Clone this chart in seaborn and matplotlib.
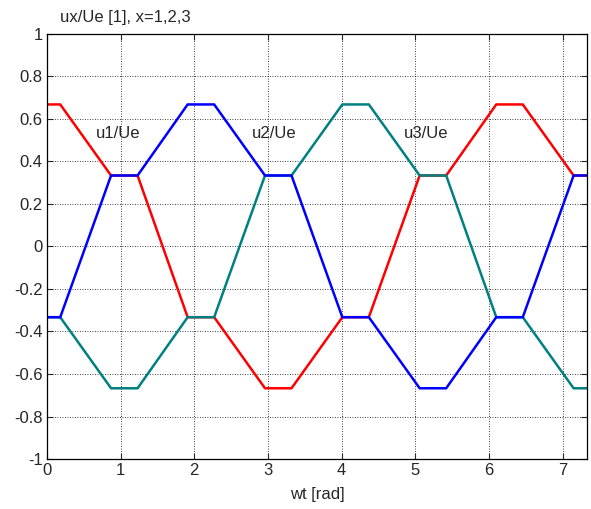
import matplotlib
matplotlib.use("Agg")
import matplotlib.pyplot as plt
import pandas as pd
import seaborn as sns

# breakpoints of the piecewise-linear waveforms
wt = [0.00, 0.18, 0.87, 1.23, 1.91, 2.27, 2.96, 3.32, 4.01, 4.37,
      5.06, 5.42, 6.10, 6.46, 7.15, 7.33]
u1 = [0.667, 0.667, 0.333, 0.333, -0.333, -0.333, -0.667, -0.667, -0.333, -0.333,
      0.333, 0.333, 0.667, 0.667, 0.333, 0.333]
u2 = [-0.333, -0.333, 0.333, 0.333, 0.667, 0.667, 0.333, 0.333, -0.333, -0.333,
      -0.667, -0.667, -0.333, -0.333, 0.333, 0.333]
u3 = [-0.333, -0.333, -0.667, -0.667, -0.333, -0.333, 0.333, 0.333, 0.667, 0.667,
      0.333, 0.333, -0.333, -0.333, -0.667, -0.667]

labels = ["u1/Ue", "u2/Ue", "u3/Ue"]
label_x = [0.66, 2.78, 4.85]
label_y = [0.51, 0.51, 0.51]

xticks = [0, 1, 2, 3, 4, 5, 6, 7]
yticks = [-1, -0.8, -0.6, -0.4, -0.2, 0, 0.2, 0.4, 0.6, 0.8, 1]
ytick_labels = ["-1", "-0.8", "-0.6", "-0.4", "-0.2", "0", "0.2", "0.4", "0.6", "0.8", "1"]

sns.set_style("ticks")
plt.rcParams['font.family'] = ['Liberation Sans', 'DejaVu Sans']

df = pd.DataFrame({"wt": wt, "u1": u1, "u2": u2, "u3": u3})

fig = plt.figure(figsize=(5.91, 5.09), dpi=100)
ax = fig.add_axes([0.0795, 0.098, 0.9135, 0.836])

# draw order: red, teal, blue (blue on top where they overlap)
sns.lineplot(data=df, x="wt", y="u1", color="#ff0000", lw=1.8, ax=ax, sort=False)
sns.lineplot(data=df, x="wt", y="u3", color="#008080", lw=1.8, ax=ax, sort=False)
sns.lineplot(data=df, x="wt", y="u2", color="#0000ff", lw=1.8, ax=ax, sort=False)

for t, x, y in zip(labels, label_x, label_y):
    ax.text(x, y, t, fontsize=12)

ax.set_xlim(0, 7.33)
ax.set_ylim(-1, 1)
ax.set_xticks(xticks)
ax.set_yticks(yticks)
ax.set_yticklabels(ytick_labels)
ax.grid(True, color="black", linestyle=(0, (1, 2)), linewidth=0.6)
ax.tick_params(direction="in", top=True, right=True, labelsize=12, length=4, width=0.8, pad=3)
for s in ax.spines.values():
    s.set_color("black")
    s.set_linewidth(0.9)
    s.set_visible(True)

ax.set_xlabel("wt [rad]", fontsize=12, labelpad=6)
ax.set_ylabel("")
fig.text(0.102, 0.966, "ux/Ue [1], x=1,2,3", fontsize=12, ha="left", va="center")

fig.savefig("out.png", dpi=100)
